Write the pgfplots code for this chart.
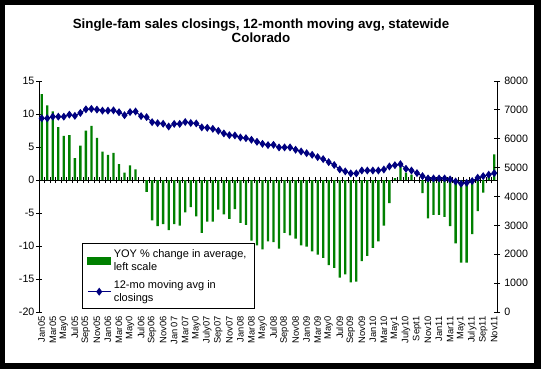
\documentclass[border=0pt]{standalone}
\usepackage{pgfplots}
\pgfplotsset{compat=1.18}
\usepackage{pgfplotstable}
\usepackage{fontspec}
\setmainfont{Liberation Sans}
\definecolor{barg}{RGB}{0,128,0}
\definecolor{linenavy}{RGB}{0,0,128}

\pgfplotstableread{
idx yoy avg
0 13.0 6710
1 11.3 6710
2 10.4 6765
3 8.0 6765
4 6.7 6765
5 6.8 6835
6 3.3 6795
7 5.2 6895
8 7.5 7020
9 8.2 7035
10 6.4 7010
11 4.3 6975
12 3.8 6975
13 4.1 6985
14 2.4 6920
15 1.1 6815
16 2.2 6925
17 1.6 6945
18 0.0 6785
19 -1.8 6750
20 -6.1 6575
21 -7.0 6540
22 -6.7 6520
23 -7.6 6425
24 -6.7 6515
25 -6.9 6515
26 -4.9 6580
27 -4.1 6545
28 -5.5 6530
29 -8.0 6395
30 -6.3 6380
31 -6.3 6345
32 -4.5 6275
33 -5.2 6185
34 -5.9 6125
35 -4.4 6115
36 -6.5 6045
37 -6.8 6020
38 -9.2 5965
39 -9.9 5895
40 -10.5 5825
41 -9.3 5780
42 -9.4 5790
43 -10.4 5700
44 -8.0 5700
45 -8.4 5700
46 -8.9 5620
47 -9.9 5560
48 -10.1 5500
49 -10.8 5445
50 -11.3 5365
51 -11.8 5295
52 -12.9 5190
53 -13.3 5090
54 -14.8 4940
55 -14.3 4870
56 -15.5 4800
57 -15.4 4800
58 -12.3 4900
59 -11.5 4900
60 -10.3 4900
61 -9.3 4900
62 -6.9 4935
63 -3.5 5040
64 0.3 5085
65 2.0 5120
66 1.1 4960
67 0.8 4900
68 0.0 4810
69 -2.0 4705
70 -5.8 4625
71 -5.3 4625
72 -5.3 4625
73 -5.6 4625
74 -7.0 4590
75 -9.6 4520
76 -12.5 4445
77 -12.5 4475
78 -8.2 4535
79 -4.7 4650
80 -1.9 4705
81 0.5 4755
82 3.9 4810
}\datatable

\pgfplotsset{
  chartgeom/.style={
    scale only axis,
    at={(29.25pt,42.75pt)}, anchor=south west,
    width=343.5pt, height=173.25pt,
    xmin=-0.5, xmax=82.5,
    tick align=center,
    major tick length=4.5pt,
    every tick/.style={black, line width=0.6pt},
    axis line style={black, line width=0.75pt},
  }
}

\begin{document}
\begin{tikzpicture}[x=0.75pt,y=0.75pt]
\fill[black] (0,0) rectangle (541,369);
\fill[white] (5,6) rectangle (534,364);
\path[use as bounding box] (0,0) rectangle (541,369);
\node[font=\bfseries\fontsize{10}{10.5}\selectfont, align=center] at (261,338) {Single-fam sales closings, 12-month moving avg, statewide\\Colorado};

\begin{axis}[chartgeom,
  ymin=-20, ymax=15,
  axis y line*=left, axis x line*=middle,
  xtick={-0.5,0.5,...,82.5}, xticklabels={},
  ytick={-20,-15,...,15},
  yticklabels={-20,-15,-10,-5,0,5,10,15},
  yticklabel style={font=\fontsize{8}{9}\selectfont, inner sep=1pt},
]
\addplot[ybar, bar width=0.42, fill=barg, draw=none] table[x=idx,y=yoy]{\datatable};
\end{axis}

\begin{axis}[chartgeom,
  ymin=0, ymax=8000,
  axis y line*=right, axis x line*=bottom,
  x axis line style={draw=none},
  xtick={0,2,...,82},
  xtick style={draw=none},
  xticklabels={Jan05,Mar05,May0,Jul05,Sep05,Nov05,Jan06,Mar06,May0,Jul06,Sep06,Nov06,Jan 07,Mar07,May0,July07,Sep07,Nov07,Jan08,Mar08,May0,Jul08,Sep08,Nov08,Jan09,Mar09,May0,Jul09,Sep09,Nov09,Jan10,Mar10,May1,July10,Sept1,Nov10,Jan11,Mar11,May1,July11,Sep11,Nov11},
  xticklabel style={rotate=90, anchor=east, font=\fontsize{7}{8}\selectfont, inner sep=1pt},
  ytick={0,1000,...,8000},
  yticklabels={0,1000,2000,3000,4000,5000,6000,7000,8000},
  yticklabel style={font=\fontsize{8}{9}\selectfont, inner sep=1pt, xshift=2pt},
  legend style={at={(0.093,0.297)}, anchor=north west, draw=black, line width=0.6pt,
    font=\fontsize{8.25}{9.8}\selectfont, cells={align=left}, inner xsep=4pt, inner ysep=2pt, row sep=2pt},
  legend cell align=left,
]
\addlegendimage{legend image code/.code={\fill[barg] (0pt,-2.6pt) rectangle (17pt,2.6pt);}}
\addlegendentry{YOY \% change in average,\\left scale}
\addplot[linenavy, line width=0.75pt, mark=diamond*, mark size=2.4pt, mark options={fill=linenavy}] table[x=idx,y=avg]{\datatable};
\addlegendentry{12-mo moving avg in\\closings}
\end{axis}
\end{tikzpicture}
\end{document}
